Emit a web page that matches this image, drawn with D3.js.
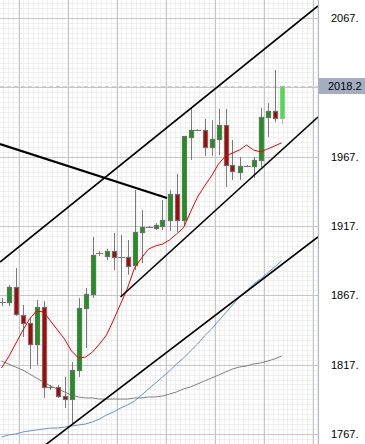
<!DOCTYPE html>
<html>
<head>
<meta charset="utf-8">
<script src="https://cdn.jsdelivr.net/npm/d3@7"></script>
<style>
  html, body { margin: 0; padding: 0; background: #fff; }
  svg { display: block; font-family: 'Liberation Sans', Arial, sans-serif; }
</style>
</head>
<body>
<svg id="chart"></svg>
<script>
// candles, index 0 is the leftmost (partly cut off) bar
const opens  = [1862.2, 1862.2, 1873.0, 1852.8, 1847.0, 1831.9, 1858.6, 1800.9, 1800.9, 1794.4,
                1792.2, 1813.2, 1857.9, 1868.0, 1897.5, 1895.4, 1899.0, 1894.6, 1894.6, 1888.9,
                1912.7, 1916.3, 1915.6, 1917.0, 1921.3, 1940.1, 1921.3, 1981.2, 1986.2, 1986.2,
                1974.0, 1979.7, 1989.8, 1961.0, 1955.9, 1960.3, 1960.3, 1964.6, 1995.6, 1999.9,
                1994.9]
const highs  = [1865.1, 1874.5, 1886.7, 1860.0, 1850.7, 1863.6, 1862.9, 1802.3, 1802.3, 1808.1,
                1818.9, 1865.1, 1872.3, 1909.1, 1899.0, 1900.4, 1912.0, 1910.5, 1906.9, 1943.0,
                1928.5, 1917.0, 1919.2, 1935.7, 1943.0, 1954.5, 1981.9, 2002.1, 1986.9, 1994.2,
                1993.4, 2001.4, 2001.4, 1979.0, 1966.8, 1961.0, 1966.8, 2002.1, 2005.7, 2029.5,
                2018.2]
const lows   = [1859.3, 1859.3, 1852.1, 1837.0, 1813.9, 1816.8, 1793.0, 1798.7, 1793.0, 1785.7,
                1773.5, 1808.1, 1829.0, 1865.1, 1895.4, 1892.5, 1885.3, 1865.8, 1881.7, 1885.3,
                1890.3, 1915.6, 1914.1, 1914.1, 1913.4, 1912.7, 1917.7, 1964.6, 1985.5, 1967.5,
                1967.5, 1968.2, 1945.1, 1950.2, 1950.2, 1959.5, 1951.6, 1959.5, 1981.2, 1992.0,
                1990.6]
const closes = [1862.2, 1873.0, 1853.5, 1847.0, 1831.9, 1858.6, 1800.9, 1800.9, 1794.4, 1792.2,
                1813.2, 1857.9, 1868.0, 1896.1, 1897.5, 1899.0, 1894.6, 1894.6, 1888.2, 1912.7,
                1916.3, 1916.3, 1917.7, 1921.3, 1940.1, 1921.3, 1981.9, 1986.2, 1986.2, 1974.0,
                1979.7, 1989.8, 1961.0, 1956.7, 1960.3, 1960.3, 1964.6, 1995.6, 1999.9, 1994.9,
                2018.2]

// moving averages
const maRed  = [1814.6, 1822.5, 1831.9, 1841.3, 1849.9, 1855.7, 1855.0, 1848.5, 1842.0, 1835.5,
                1826.9, 1821.8, 1822.5, 1826.1, 1831.9, 1838.4, 1849.2, 1860.7, 1872.3, 1886.7,
                1893.9, 1900.4, 1902.6, 1904.0, 1906.9, 1911.2, 1915.6, 1927.1, 1937.9, 1945.8,
                1953.1, 1961.7, 1967.5, 1969.6, 1971.8, 1975.4, 1971.8, 1970.4, 1972.5, 1974.7,
                1976.9]
const maBlue = [1764.8, 1766.3, 1767.0, 1768.4, 1769.2, 1769.9, 1770.6, 1771.3, 1771.3, 1772.0,
                1772.8, 1773.5, 1774.2, 1775.7, 1777.8, 1780.7, 1782.9, 1785.7, 1787.9, 1790.8,
                1795.1, 1799.5, 1803.8, 1808.1, 1812.4, 1817.5, 1821.8, 1826.9, 1831.9, 1837.7,
                1842.7, 1848.5, 1854.3, 1860.0, 1865.8, 1870.1, 1875.2, 1878.8, 1883.1, 1887.4,
                1891.8]
const maGray = [1819.6, 1817.5, 1815.3, 1813.2, 1810.3, 1807.4, 1804.5, 1801.6, 1799.5, 1797.3,
                1795.1, 1793.7, 1793.0, 1793.0, 1792.2, 1792.2, 1792.2, 1792.2, 1792.2, 1793.0,
                1793.0, 1793.7, 1793.7, 1794.4, 1795.8, 1797.3, 1799.5, 1800.9, 1803.1, 1805.2,
                1807.4, 1809.5, 1811.7, 1813.9, 1815.3, 1816.0, 1817.5, 1818.2, 1819.6, 1821.1,
                1823.2]

const priceTicks = [1767, 1817, 1867, 1917, 1967, 2017, 2067]
const lastPrice = 2018.2

// hand drawn lines: start bar, start price, end bar, end price
const lineX1 = [-0.214, 17, 4, -0.214]
const lineY1 = [1891.0, 1865.8, 1750.4, 1976.1]
const lineX2 = [45.21, 45.21, 45.21, 23.64]
const lineY2 = [2075.7, 1995.6, 1909.1, 1937.2]

const width = 365
const height = 444
const plotW = 318

const svg = d3.select('#chart')
  .attr('width', width)
  .attr('height', height)

svg.append('rect')
  .attr('width', width)
  .attr('height', height)
  .attr('fill', '#fff')

const x = d3.scaleLinear().domain([0, 40]).range([1.5, 281.5])
const y = d3.scaleLinear().domain([1767, 2067]).range([434, 18])

svg.append('clipPath')
  .attr('id', 'plot-clip')
  .append('rect')
  .attr('width', plotW)
  .attr('height', height)

const plot = svg.append('g').attr('clip-path', 'url(#plot-clip)')

// grid: minor lines first, then major ones
const bars = d3.range(-1, 46, 0.7).map(d => d + 0.55)
const majorBars = d3.range(2.55, 46, 7)
const minorPrices = d3.range(1767 - 50, 2117, 50 / 14)

plot.append('g').selectAll('line')
  .data(bars)
  .enter()
  .append('line')
  .attr('x1', d => Math.round(x(d)) + 0.5)
  .attr('x2', d => Math.round(x(d)) + 0.5)
  .attr('y1', 0)
  .attr('y2', height)
  .attr('stroke', '#efefef')

plot.append('g').selectAll('line')
  .data(minorPrices)
  .enter()
  .append('line')
  .attr('x1', 0)
  .attr('x2', plotW)
  .attr('y1', d => Math.round(y(d)) + 0.5)
  .attr('y2', d => Math.round(y(d)) + 0.5)
  .attr('stroke', '#efefef')

plot.append('g').selectAll('line')
  .data(majorBars)
  .enter()
  .append('line')
  .attr('x1', d => Math.round(x(d)) + 0.5)
  .attr('x2', d => Math.round(x(d)) + 0.5)
  .attr('y1', 0)
  .attr('y2', height)
  .attr('stroke', '#c6c6c6')

plot.append('g').selectAll('line')
  .data(priceTicks)
  .enter()
  .append('line')
  .attr('x1', 0)
  .attr('x2', plotW)
  .attr('y1', d => Math.round(y(d)) + 0.5)
  .attr('y2', d => Math.round(y(d)) + 0.5)
  .attr('stroke', '#c6c6c6')

// last price dashed line
plot.append('line')
  .attr('x1', 0)
  .attr('x2', plotW)
  .attr('y1', Math.round(y(lastPrice)) + 0.5)
  .attr('y2', Math.round(y(lastPrice)) + 0.5)
  .attr('stroke', '#c4d0e6')
  .attr('stroke-dasharray', '4,3')

// moving averages
const maLine = d3.line()
  .x((d, i) => x(i))
  .y(d => y(d))

plot.append('path').datum(maGray)
  .attr('d', maLine)
  .attr('fill', 'none')
  .attr('stroke', '#808080')
  .attr('stroke-width', 1)

plot.append('path').datum(maBlue)
  .attr('d', maLine)
  .attr('fill', 'none')
  .attr('stroke', '#6a8fd6')
  .attr('stroke-width', 1)

// candles
const candles = plot.append('g').selectAll('g')
  .data(opens.map((o, i) => ({i, o, h: highs[i], l: lows[i], c: closes[i]})))
  .enter()
  .append('g')

candles.append('line')
  .attr('x1', d => Math.round(x(d.i)) + 0.5)
  .attr('x2', d => Math.round(x(d.i)) + 0.5)
  .attr('y1', d => y(d.h))
  .attr('y2', d => y(d.l))
  .attr('stroke', d => d.i === 40 ? '#b4b4b4' : '#7a7a7a')

candles.filter(d => d.o === d.c)
  .append('line')
  .attr('x1', d => Math.round(x(d.i)) - 3)
  .attr('x2', d => Math.round(x(d.i)) + 4)
  .attr('y1', d => Math.round(y(d.o)) + 0.5)
  .attr('y2', d => Math.round(y(d.o)) + 0.5)
  .attr('stroke', '#7a7a7a')

candles.filter(d => d.o !== d.c)
  .append('rect')
  .attr('x', d => Math.round(x(d.i)) - 1.5)
  .attr('width', 4)
  .attr('y', d => Math.round(y(Math.max(d.o, d.c))) + 0.5)
  .attr('height', d => Math.max(1, Math.round(Math.abs(y(d.o) - y(d.c)))))
  .attr('fill', d => d.i === 40 ? '#2cf22c' : (d.c > d.o ? '#0b9f0b' : '#b30000'))
  .attr('stroke', d => d.i === 40 ? '#b4b4b4' : '#6e6e6e')
  .attr('stroke-width', 1.2)

plot.append('path').datum(maRed)
  .attr('d', maLine)
  .attr('fill', 'none')
  .attr('stroke', '#f00000')
  .attr('stroke-width', 1)

// trend lines
plot.append('g').selectAll('line')
  .data(lineX1)
  .enter()
  .append('line')
  .attr('x1', (d, i) => x(lineX1[i]))
  .attr('y1', (d, i) => y(lineY1[i]))
  .attr('x2', (d, i) => x(lineX2[i]))
  .attr('y2', (d, i) => y(lineY2[i]))
  .attr('stroke', '#000')
  .attr('stroke-width', (d, i) => i === 3 ? 2.2 : 1.6)

// price axis
svg.append('line')
  .attr('x1', plotW + 0.5)
  .attr('x2', plotW + 0.5)
  .attr('y1', 0)
  .attr('y2', height)
  .attr('stroke', '#a9b9c9')

svg.append('g').selectAll('text')
  .data(priceTicks.filter(d => Math.abs(d - lastPrice) > 10))
  .enter()
  .append('text')
  .attr('x', 331)
  .attr('y', d => y(d))
  .attr('dy', '0.36em')
  .attr('font-size', 11)
  .attr('fill', '#000')
  .text(d => d + '.')

svg.append('rect')
  .attr('x', plotW + 1)
  .attr('y', Math.round(y(lastPrice)) - 8)
  .attr('width', width - plotW - 1)
  .attr('height', 16)
  .attr('fill', '#a3aec2')

svg.append('text')
  .attr('x', 328)
  .attr('y', y(lastPrice))
  .attr('dy', '0.36em')
  .attr('font-size', 11)
  .attr('fill', '#000')
  .text(lastPrice.toFixed(1))
</script>
</body>
</html>
